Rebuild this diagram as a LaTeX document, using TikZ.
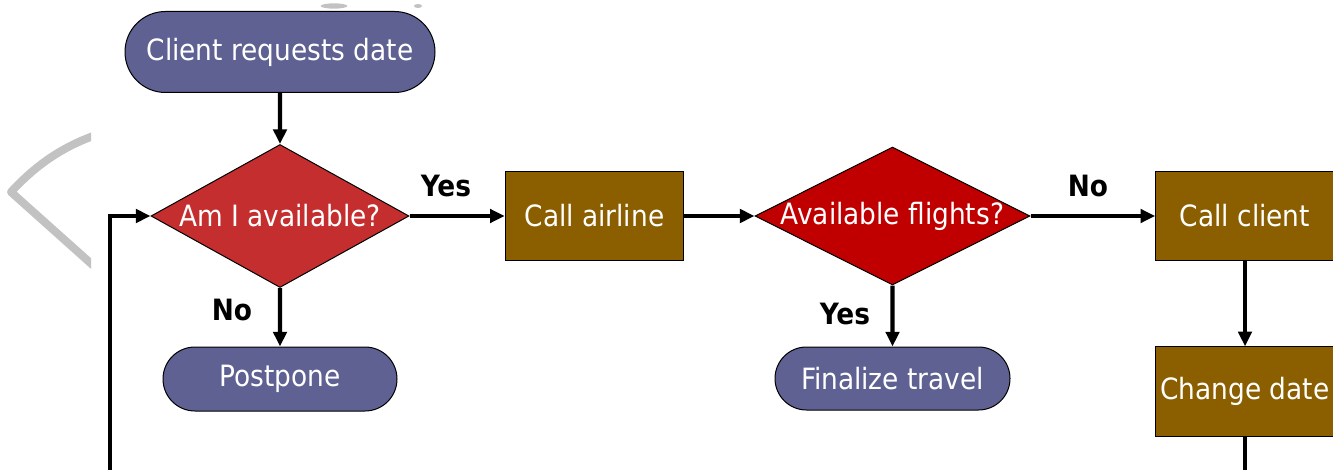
\documentclass[tikz,border=0pt]{standalone}
\usepackage{fontspec}
\setmainfont{DejaVu Sans Condensed}
\usetikzlibrary{shapes.geometric,shapes.misc,arrows.meta}

\definecolor{termblue}{RGB}{94,97,146}
\definecolor{procbrown}{RGB}{139,94,0}
\definecolor{availred}{RGB}{196,46,46}
\definecolor{flightred}{RGB}{192,0,0}
\definecolor{scribgray}{RGB}{194,194,194}

\begin{document}
\begin{tikzpicture}[x=0.75pt,y=-0.75pt,
  every node/.style={font=\fontsize{22}{26}\selectfont},
  base/.style={draw=black, line width=0.75pt, text=white, inner sep=0pt},
  terminal/.style={base, rounded rectangle, fill=termblue},
  process/.style={base, rectangle, fill=procbrown, minimum width=134pt, minimum height=67pt},
  decision/.style={base, diamond},
  flow/.style={line width=3.2pt, -{Triangle[length=11pt,width=10pt]}},
  plain/.style={line width=3.2pt},
  answer/.style={font=\fontsize{22}{26}\selectfont\bfseries, text=black, inner sep=0pt},
  scribble/.style={draw=scribgray, line width=6pt, line join=round}
]
\useasboundingbox (0,0) rectangle (1333,470);

% faint grey pen strokes in the margin
\begin{scope}
  \clip (0,0) rectangle (91,470);
  \draw[scribble] (96,135) .. controls (62,147) and (36,165) .. (11,192) -- (96,268);
\end{scope}
\fill[scribgray] (334,6) ellipse [x radius=10pt, y radius=2pt];
\fill[scribgray] (418,6) ellipse [x radius=3pt, y radius=1.5pt];

% boxes
\node[terminal, minimum width=232.5pt, minimum height=60.75pt] (start) at (280,52) {Client requests date};
\node[decision, fill=availred, minimum width=193.5pt, minimum height=107.25pt,
      label={[text=white]center:Am I available?}] (avail) at (280,216) {};
\node[process] (airline) at (594.5,216) {Call airline};
\node[decision, fill=flightred, minimum width=206.25pt, minimum height=103.5pt,
      label={[text=white]center:Available flights?}] (flights) at (892.5,216) {};
\node[process] (client) at (1245,216) {Call client};
\node[process] (change) at (1245,391.5) {Change date};
\node[terminal, minimum width=175.5pt, minimum height=48pt] (postpone) at (280,379) {Postpone};
\node[terminal, minimum width=176.25pt, minimum height=47.25pt] (final) at (892.5,378.5) {Finalize travel};

% branch labels
\node[answer] (yesA) at (446,186) {Yes};
\node[answer] (noA) at (232,310) {No};
\node[answer] (yesB) at (845,314) {Yes};
\node[answer] (noB) at (1088,186) {No};

% connectors
\coordinate (loopfoot) at (110,480);
\coordinate (changefoot) at (1245,480);
\draw[flow] (start) -- (avail);
\draw[flow] (avail) -- (airline);
\draw[flow] (airline) -- (flights);
\draw[flow] (flights) -- (client);
\draw[flow] (avail) -- (postpone);
\draw[flow] (flights) -- (final);
\draw[flow] (client) -- (change);
\draw[plain] (change) -- (changefoot);
\draw[flow] (loopfoot) |- (avail.west);
\end{tikzpicture}
\end{document}
